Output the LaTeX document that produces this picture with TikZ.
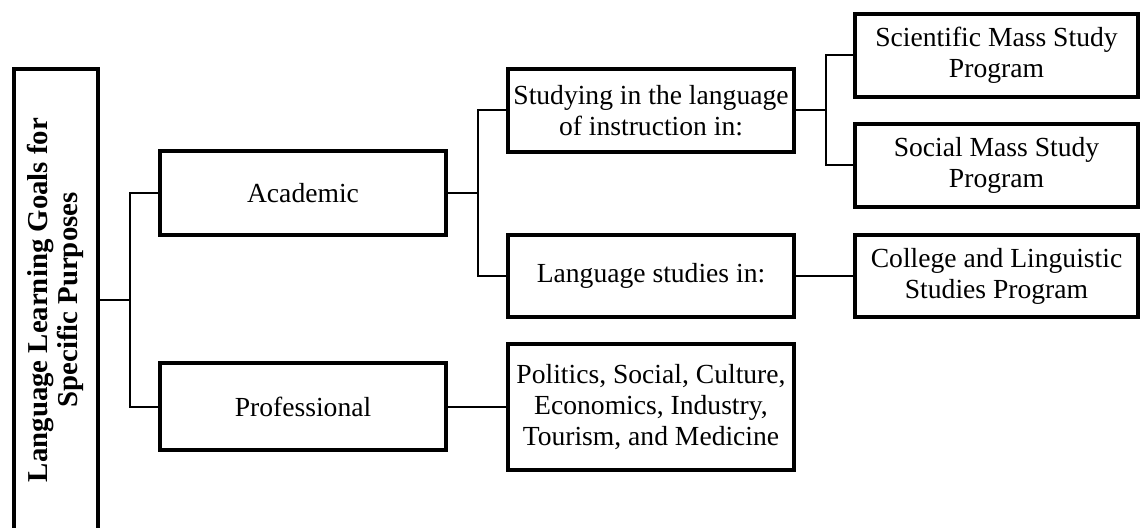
\documentclass[tikz,border=0pt]{standalone}
\usepackage{fontspec}
\setmainfont{Liberation Serif}
\usepackage{graphicx}

\begin{document}
\begin{tikzpicture}[x=0.5pt,y=-0.5pt,
    box/.style={rectangle,draw,line width=2pt,minimum width=143pt,minimum height=42pt,align=center,inner sep=1.5pt,font=\fontsize{13.8}{15.5}\selectfont},
    link/.style={line width=1pt}]
    \useasboundingbox (0,0) rectangle (1141,528);
    \clip (0,0) rectangle (1141,528);

    % Root
    \node[rectangle,draw,line width=2pt,minimum width=42pt,minimum height=231pt] (goals) at (56,300) {\rotatebox{90}{\fontsize{14.4}{15}\selectfont\bfseries\begin{tabular}{c}Language Learning Goals for\\Specific Purposes\end{tabular}}};

    % Level one
    \node[box] (academic) at (303,193) {Academic};
    \node[box,minimum height=43.5pt] (professional) at (303,407) {Professional};
    \draw[link] (goals.east) -- ++(30,0) coordinate (gj);
    \draw[link] (gj) |- (academic.west);
    \draw[link] (gj) |- (professional.west);

    % Academic branches
    \node[box,minimum height=41.5pt] (studying) at (651,110.5) {Studying in the language\\of instruction in:};
    \node[box,minimum height=41pt] (langstudies) at (651,276) {Language studies in:};
    \draw[link] (academic.east) -- ++(30,0) coordinate (aj);
    \draw[link] (aj) |- (studying.west);
    \draw[link] (aj) |- (langstudies.west);

    % Professional fields
    \node[box,minimum height=63pt] (fields) at (651,407) {Politics, Social, Culture,\\Economics, Industry,\\Tourism, and Medicine};
    \draw[link] (professional.east) -- (fields.west);

    % Programs
    \node[box,minimum width=141.5pt,minimum height=41.5pt] (scientific) at (996.5,55.5) {Scientific Mass Study\\Program};
    \node[box,minimum width=141.5pt,minimum height=41.5pt] (social) at (996.5,165.5) {Social Mass Study\\Program};
    \draw[link] (studying.east) -- ++(30,0) coordinate (sj);
    \draw[link] (sj) |- (scientific.west);
    \draw[link] (sj) |- (social.west);

    \node[box,minimum width=141.5pt,minimum height=41pt] (college) at (996.5,276) {College and Linguistic\\Studies Program};
    \draw[link] (langstudies.east) -- (college.west);
\end{tikzpicture}
\end{document}
